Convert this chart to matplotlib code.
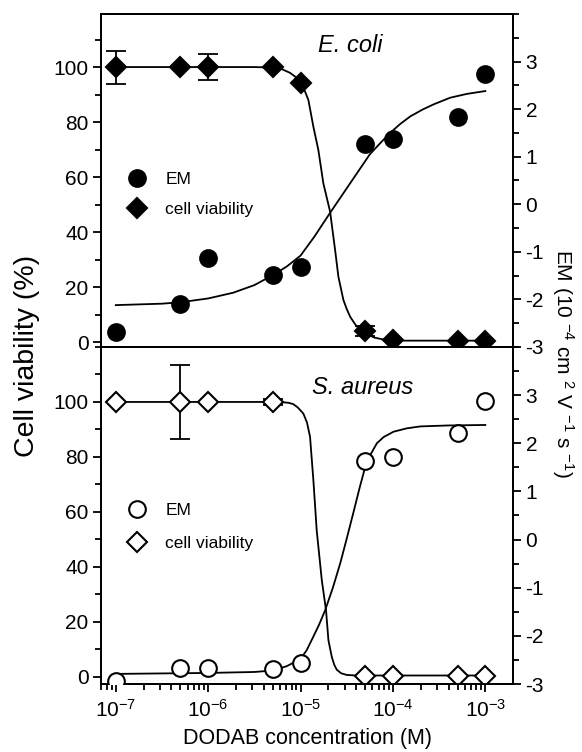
import numpy as np
import matplotlib
matplotlib.use("Agg")
import matplotlib.pyplot as plt
from matplotlib.ticker import MultipleLocator, LogLocator, NullFormatter

plt.rcParams['font.family'] = ['Liberation Sans', 'DejaVu Sans']
plt.rcParams['mathtext.fontset'] = 'custom'
plt.rcParams['mathtext.rm'] = 'Liberation Sans'
plt.rcParams['mathtext.it'] = 'Liberation Sans:italic'
plt.rcParams['axes.unicode_minus'] = False

# DODAB concentrations (M)
conc = [1e-7, 5e-7, 1e-6, 5e-6, 1e-5, 5e-5, 1e-4, 5e-4, 1e-3]

# E. coli
ecoli_em = [-2.68, -2.09, -1.14, -1.49, -1.32, 1.27, 1.37, 1.83, 2.73]
ecoli_viab = [100, 100, 100, 100, 94.1, 3.9, 0.6, 0.4, 0.4]
ecoli_viab_err = [6.0, 0, 4.7, 0, 0, 1.8, 0, 0, 0]

# S. aureus
saureus_em = [-2.93, -2.66, -2.66, -2.69, -2.56, 1.64, 1.71, 2.22, 2.88]
saureus_viab_conc = [1e-7, 5e-7, 1e-6, 5e-6, 5e-5, 1e-4, 5e-4, 1e-3]
saureus_viab = [100, 100, 100, 100, 0.2, 0.2, 0.2, 0.2]
saureus_viab_err = [0, 13.3, 0, 1.0, 0, 0, 0, 0]

# fitted curves (log10 of concentration, value)
ecoli_viab_fit_logx = [-7.0, -5.5, -5.3, -5.2, -5.114, -5.05, -5.0, -4.95, -4.915,
                       -4.861, -4.807, -4.753, -4.68, -4.626, -4.59, -4.536, -4.50,
                       -4.463, -4.42, -4.39, -4.30, -4.20, -4.10, -3.9, -3.0]
ecoli_viab_fit = [100, 100, 99.8, 99.2, 97.9, 96.3, 94.1, 91.0, 88.0,
                  78.3, 69.8, 57.7, 47.4, 33.5, 23.7, 15.3, 12.0,
                  9.2, 7.0, 5.6, 3.2, 1.6, 0.9, 0.5, 0.5]
ecoli_em_fit_logx = [-7.0, -6.5, -6.3, -6.0, -5.73, -5.5, -5.3, -5.15, -5.0, -4.85,
                     -4.68, -4.46, -4.25, -4.13, -4.03, -3.92, -3.81, -3.68, -3.56,
                     -3.38, -3.2, -3.0]
ecoli_em_fit = [-2.12, -2.09, -2.06, -1.98, -1.86, -1.70, -1.49, -1.31, -1.08, -0.68,
                -0.18, 0.45, 1.05, 1.30, 1.50, 1.69, 1.85, 1.99, 2.10,
                2.24, 2.32, 2.38]

saureus_viab_fit_logx = [-7.0, -5.3, -5.2, -5.13, -5.078, -5.03, -4.97, -4.93, -4.897,
                         -4.861, -4.825, -4.77, -4.724, -4.698, -4.662, -4.635,
                         -4.608, -4.56, -4.5, -4.4, -3.0]
saureus_viab_fit = [100, 100, 99.9, 99.7, 99.2, 98.0, 95.8, 92.5, 87.3,
                    71.5, 53.3, 35.2, 24.2, 13.3, 7.3, 4.4,
                    2.6, 1.3, 0.7, 0.5, 0.5]
saureus_em_fit_logx = [-7.0, -6.0, -5.5, -5.3, -5.15, -5.0, -4.934, -4.865, -4.80,
                       -4.734, -4.65, -4.57, -4.50, -4.428, -4.36, -4.308, -4.25,
                       -4.174, -4.10, -3.994, -3.85, -3.705, -3.4, -3.0]
saureus_em_fit = [-2.79, -2.77, -2.75, -2.72, -2.63, -2.48, -2.30, -2.03, -1.77,
                  -1.47, -1.00, -0.49, 0.02, 0.56, 1.08, 1.45, 1.74,
                  2.00, 2.13, 2.24, 2.31, 2.35, 2.37, 2.38]

FS = 15
LW = 1.3


def draw_panel(ax, em, viab_x, viab, viab_err, em_fx, em_f, v_fx, v_f,
               filled, title, title_pos, leg_anchor, leg_space, ylim_left):
    axr = ax.twinx()
    fc = 'black' if filled else 'white'
    # fitted curves
    ax.plot(10 ** np.array(v_fx), v_f, color='black', lw=LW, zorder=2)
    axr.plot(10 ** np.array(em_fx), em_f, color='black', lw=LW, zorder=2)
    # error bars
    err = np.array(viab_err)
    mask = err > 0
    ax.errorbar(np.array(viab_x)[mask], np.array(viab)[mask], yerr=err[mask],
                fmt='none', ecolor='black', elinewidth=LW, capsize=7,
                capthick=LW, zorder=3)
    # markers
    hv, = ax.plot(viab_x, viab, 'D', ms=10, mfc=fc, mec='black', mew=1.5,
                  zorder=4, label='cell viability')
    he, = axr.plot(conc, em, 'o', ms=12, mfc=fc, mec='black', mew=1.5,
                   zorder=4, label='EM')
    ax.set_ylim(*ylim_left)
    axr.set_ylim(-3, 4)
    ax.yaxis.set_major_locator(MultipleLocator(20))
    ax.yaxis.set_minor_locator(MultipleLocator(10))
    axr.yaxis.set_major_locator(MultipleLocator(1))
    axr.yaxis.set_minor_locator(MultipleLocator(0.5))
    for a in (ax, axr):
        a.tick_params(axis='y', which='major', direction='out', length=6,
                      width=LW, labelsize=FS, pad=3)
        a.tick_params(axis='y', which='minor', direction='out', length=4,
                      width=LW)
        for s in a.spines.values():
            s.set_linewidth(LW)
    ax.set_yticks([t for t in range(0, 101, 20)])
    axr.set_yticks(range(-3, 4))
    ax.text(title_pos[0], title_pos[1], title, transform=ax.transAxes,
            fontsize=17, style='italic', ha='left', va='center')
    ax.legend([he, hv], ['EM', 'cell viability'], loc='center left',
              bbox_to_anchor=leg_anchor, frameon=False, fontsize=12.5,
              handlelength=1.0, handletextpad=1.15, borderpad=0,
              borderaxespad=0, labelspacing=leg_space)
    return axr


fig = plt.figure(figsize=(5.82, 7.52), dpi=100)
ax1 = fig.add_axes([0.1735, 0.5386, 0.708, 0.4428])
ax2 = fig.add_axes([0.1735, 0.0904, 0.708, 0.4482], sharex=ax1)

draw_panel(ax1, ecoli_em, conc, ecoli_viab, ecoli_viab_err,
           ecoli_em_fit_logx, ecoli_em_fit, ecoli_viab_fit_logx, ecoli_viab_fit,
           True, 'E. coli', (0.527, 0.904), (0.066, 0.459), 0.85, (-1.8, 119.3))
draw_panel(ax2, saureus_em, saureus_viab_conc, saureus_viab, saureus_viab_err,
           saureus_em_fit_logx, saureus_em_fit, saureus_viab_fit_logx,
           saureus_viab_fit, False, 'S. aureus', (0.512, 0.881),
           (0.066, 0.466), 1.0, (-2.6, 120))

ax2.set_xscale('log')
ax2.set_xlim(10 ** -7.16, 10 ** -2.70)
ax2.xaxis.set_major_locator(LogLocator(base=10, numticks=10))
ax2.xaxis.set_minor_locator(LogLocator(base=10, subs=np.arange(2, 10), numticks=20))
ax2.xaxis.set_minor_formatter(NullFormatter())
ax2.tick_params(axis='x', which='major', direction='out', length=6, width=LW,
                labelsize=FS, pad=5)
ax2.tick_params(axis='x', which='minor', direction='out', length=4, width=LW)
ax1.tick_params(axis='x', which='both', length=0, labelbottom=False)

ax2.set_xlabel('DODAB concentration (M)', fontsize=15.5, labelpad=5)
fig.text(0.046, 0.527, 'Cell viability (%)', rotation=90, fontsize=20.5,
         ha='center', va='center')
fig.text(0.968, 0.517, r'EM (10 $^{-4}$ cm $^{2}$ V $^{-1}$ s $^{-1}$)',
         rotation=270, fontsize=15, ha='center', va='center')

fig.savefig('out.png', dpi=100)
